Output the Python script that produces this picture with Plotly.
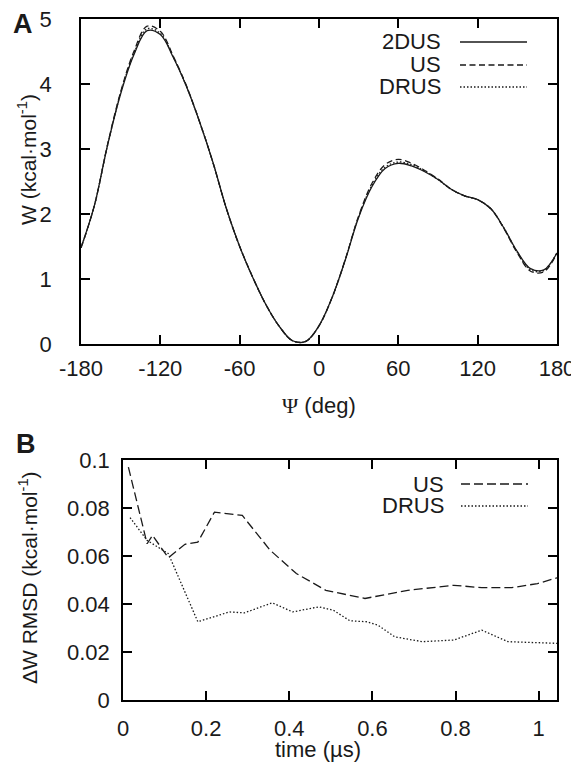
import plotly.graph_objects as go

# the page body adds an 8 px margin, so the figure is 8 px smaller and
# all pixel positions are measured from the window corner minus that margin
OFF = 8
W_FIG, H_FIG = 579 - OFF, 770 - OFF

# ---------------- data: panel A ----------------
psi = [-180, -170, -160, -150, -140, -130, -120, -110, -100, -90, -80, -70, -60, -50, -40,
       -30, -20, -10, 0, 10, 20, 30, 40, 50, 60, 70, 80, 90, 100, 110, 120, 130, 140,
       150, 160, 170, 180]
w_2dus = [1.48, 2.12, 3.05, 3.85, 4.45, 4.82, 4.76, 4.40, 3.95, 3.40, 2.78, 2.08, 1.50, 1.02, 0.60,
          0.27, 0.05, 0.04, 0.28, 0.72, 1.30, 1.95, 2.42, 2.70, 2.78, 2.74, 2.65, 2.53, 2.38, 2.28, 2.22,
          2.08, 1.78, 1.42, 1.16, 1.14, 1.40]
w_us = [1.48, 2.12, 3.06, 3.88, 4.50, 4.89, 4.81, 4.42, 3.96, 3.40, 2.78, 2.08, 1.50, 1.02, 0.60,
        0.27, 0.05, 0.04, 0.28, 0.72, 1.31, 1.97, 2.47, 2.76, 2.84, 2.78, 2.67, 2.54, 2.38, 2.28, 2.22,
        2.08, 1.77, 1.40, 1.12, 1.11, 1.40]
w_drus = [1.48, 2.12, 3.05, 3.86, 4.47, 4.85, 4.78, 4.41, 3.95, 3.40, 2.78, 2.08, 1.50, 1.02, 0.60,
          0.27, 0.05, 0.04, 0.28, 0.72, 1.30, 1.96, 2.44, 2.72, 2.80, 2.76, 2.66, 2.53, 2.38, 2.28, 2.22,
          2.08, 1.78, 1.41, 1.14, 1.13, 1.41]

# ---------------- data: panel B ----------------
t_us = [0.013, 0.058, 0.071, 0.109, 0.149, 0.18, 0.22, 0.287, 0.354, 0.417, 0.488, 0.582,
        0.685, 0.796, 0.863, 0.935, 0.997, 1.046]
rmsd_us = [0.097, 0.0651, 0.0686, 0.0593, 0.0649, 0.0658, 0.0783, 0.0769, 0.0624, 0.0527,
           0.0457, 0.0423, 0.0457, 0.0478, 0.0468, 0.0468, 0.0485, 0.051]
t_drus = [0.017, 0.058, 0.109, 0.18, 0.256, 0.292, 0.359, 0.408, 0.471, 0.506, 0.546, 0.587,
          0.613, 0.654, 0.72, 0.796, 0.863, 0.926, 1.046]
rmsd_drus = [0.076, 0.0665, 0.061, 0.0326, 0.0367, 0.0363, 0.0405, 0.0367, 0.0388, 0.0374,
             0.033, 0.0326, 0.0312, 0.0263, 0.0243, 0.025, 0.0291, 0.0243, 0.0236]

xticks_a = [-180, -120, -60, 0, 60, 120, 180]
xticklabels_a = ["-180", "-120", "-60", "0", "60", "120", "180"]
yticks_a = [0, 1, 2, 3, 4, 5]
xticks_b = [0, 0.2, 0.4, 0.6, 0.8, 1.0]
xticklabels_b = ["0", "0.2", "0.4", "0.6", "0.8", "1"]
yticks_b = [0, 0.02, 0.04, 0.06, 0.08, 0.1]
yticklabels_b = ["0", "0.02", "0.04", "0.06", "0.08", "0.1"]

# ---------------- styling ----------------
FONT = "Liberation Sans, Arial, sans-serif"
INK = "#1a1a1a"
LW = 1.3
DASH_A = "6px,3.5px"
DASH_B = "9px,4px"
DOT = "1.5px,2px"
TF = 22


def px(x):
    return (x - OFF) / W_FIG


def py(y):
    return 1 - (y - OFF) / H_FIG


fig = go.Figure()

fig.add_trace(go.Scatter(x=psi, y=w_2dus, mode="lines", line=dict(color=INK, width=LW, shape="spline"),
                         xaxis="x", yaxis="y", showlegend=False))
fig.add_trace(go.Scatter(x=psi, y=w_us, mode="lines", line=dict(color=INK, width=LW, dash=DASH_A, shape="spline"),
                         xaxis="x", yaxis="y", showlegend=False))
fig.add_trace(go.Scatter(x=psi, y=w_drus, mode="lines", line=dict(color=INK, width=LW, dash=DOT, shape="spline"),
                         xaxis="x", yaxis="y", showlegend=False))

fig.add_trace(go.Scatter(x=t_us, y=rmsd_us, mode="lines", line=dict(color=INK, width=LW, dash=DASH_B),
                         xaxis="x2", yaxis="y2", showlegend=False))
fig.add_trace(go.Scatter(x=t_drus, y=rmsd_drus, mode="lines", line=dict(color=INK, width=LW, dash=DOT),
                         xaxis="x2", yaxis="y2", showlegend=False))

axis_common = dict(showline=True, linecolor="black", linewidth=1.5, mirror="ticks", ticks="inside",
                   ticklen=9, tickwidth=1.5, tickcolor="black", showgrid=False, zeroline=False,
                   tickfont=dict(family=FONT, size=TF, color=INK), automargin=False,
                   ticklabeloverflow="allow")

fig.update_layout(
    width=W_FIG, height=H_FIG,
    margin=dict(l=0, r=0, t=0, b=0),
    paper_bgcolor="white", plot_bgcolor="white",
    xaxis=dict(domain=[px(81), px(557)], range=[-180, 180], tickvals=xticks_a, ticktext=xticklabels_a,
               anchor="y", ticklabelstandoff=4, **axis_common),
    yaxis=dict(domain=[py(344), py(19)], range=[0, 5], tickvals=yticks_a, anchor="x",
               ticklabelstandoff=23, **axis_common),
    xaxis2=dict(domain=[px(123), px(557)], range=[0, 1.044], tickvals=xticks_b, ticktext=xticklabels_b,
                anchor="y2", ticklabelstandoff=8, **axis_common),
    yaxis2=dict(domain=[py(700), py(460)], range=[0, 0.1], tickvals=yticks_b, ticktext=yticklabels_b,
                anchor="x2", ticklabelstandoff=7, **axis_common),
)

annotations = [
    dict(text="<b>A</b>", x=px(23), y=py(24), font=dict(size=27)),
    dict(text="<b>B</b>", x=px(26), y=py(444), font=dict(size=27)),
    dict(text="<span style='font-family:Liberation Serif'>Ψ</span> (deg)", x=px(319), y=py(405)),
    dict(text="time (µs)", x=px(318), y=py(749)),
    dict(text="W (kcal·mol<sup>-1</sup>)", x=px(27), y=py(160), textangle=-90, font=dict(size=21)),
    dict(text="ΔW RMSD (kcal·mol<sup>-1</sup>)", x=px(28), y=py(578), textangle=-90, font=dict(size=21)),
]
for a in annotations:
    font = dict(family=FONT, size=TF, color=INK)
    font.update(a.pop("font", {}))
    fig.add_annotation(xref="paper", yref="paper", showarrow=False, xanchor="center", yanchor="middle",
                       font=font, **a)

# legends (text on the left, line sample on the right)
legend_a = [("2DUS", None, 42), ("US", DASH_A, 65), ("DRUS", DOT, 87)]
legend_b = [("US", DASH_B, 484), ("DRUS", DOT, 506)]
for entries, xr, x0, x1 in [(legend_a, 443, 460, 527), (legend_b, 446, 461, 528)]:
    for name, dash, yy in entries:
        fig.add_annotation(xref="paper", yref="paper", showarrow=False, x=px(xr), y=py(yy),
                           xanchor="right", yanchor="middle", text=name, height=21, valign="middle",
                           font=dict(family=FONT, size=TF, color=INK))
        ln = dict(color=INK, width=LW)
        if dash:
            ln["dash"] = dash
        fig.add_shape(type="line", xref="paper", yref="paper", x0=px(x0), x1=px(x1), y0=py(yy), y1=py(yy),
                      line=ln)

fig.write_html("out.html")
